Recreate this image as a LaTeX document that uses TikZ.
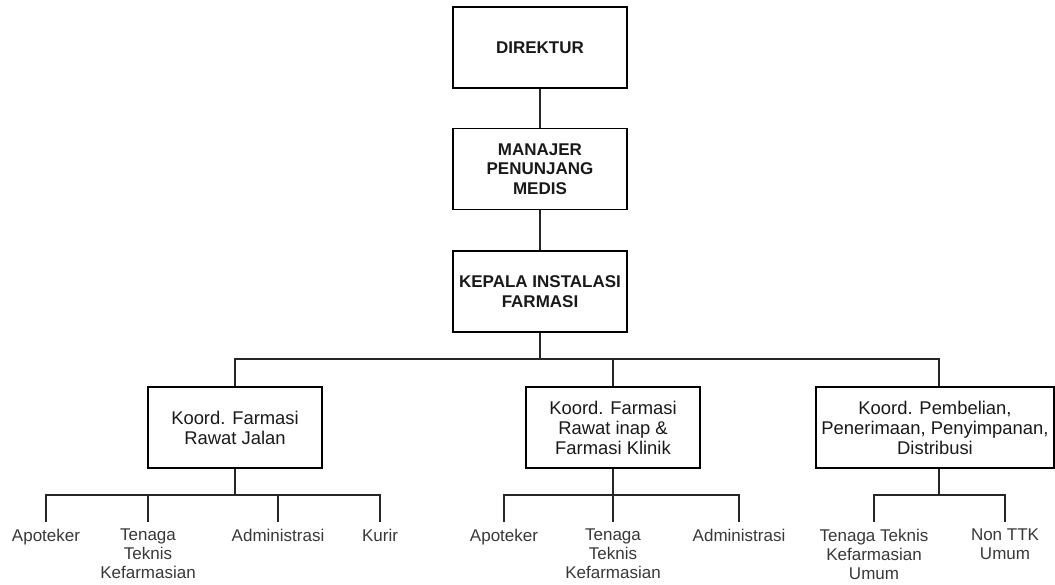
\documentclass[tikz,border=0pt]{standalone}
\usepackage{fontspec}
\setmainfont{Liberation Sans}
\begin{document}
\begin{tikzpicture}[x=1pt,y=-1pt,
  box/.style={draw=black,line width=1.2pt,rectangle,minimum width=174pt,minimum height=81pt,inner sep=0pt,align=center,text=black!90},
  title/.style={box,font=\fontsize{17}{19.5}\selectfont\bfseries},
  koord/.style={box,font=\fontsize{18.4}{20}\selectfont},
  lab/.style={anchor=north,inner xsep=0pt,inner ysep=7pt,align=center,text=black!78,font=\fontsize{17}{19}\selectfont},
  conn/.style={line width=1.2pt,black!85}]
\useasboundingbox (0,0) rectangle (1055,584);
% top chain
\node[title] (dir) at (540,47.5) {DIREKTUR};
\node[title] (man) at (540,169) {MANAJER\\PENUNJANG\\MEDIS};
\node[title] (kep) at (540,291.5) {KEPALA INSTALASI\\FARMASI};
% coordinators
\node[koord] (k1) at (235,427.5) {Koord. Farmasi\\Rawat Jalan};
\node[koord] (k2) at (613,427.5) {Koord. Farmasi\\Rawat inap \&\\Farmasi Klinik};
\node[koord,minimum width=238pt] (k3) at (935,427.5) {Koord. Pembelian,\\Penerimaan, Penyimpanan,\\Distribusi};
% junctions
\coordinate (m) at (540,359);
\coordinate (j1) at (235,495);
\coordinate (j2) at (613,495);
\coordinate (j3) at (939,495);
% labels
\node[lab] (a1) at (46,522) {Apoteker};
\node[lab] (a2) at (148,522) {Tenaga\\Teknis\\Kefarmasian};
\node[lab] (a3) at (278,522) {Administrasi};
\node[lab] (a4) at (380,522) {Kurir};
\node[lab] (b1) at (504,522) {Apoteker};
\node[lab] (b2) at (613,522) {Tenaga\\Teknis\\Kefarmasian};
\node[lab] (b3) at (739,522) {Administrasi};
\node[lab] (c1) at (874,522) {Tenaga Teknis\\Kefarmasian\\Umum};
\node[lab] (c2) at (1005,522) {Non TTK\\Umum};
% connectors
\draw[conn] (dir) -- (man);
\draw[conn] (man) -- (kep);
\draw[conn] (kep) -- (m);
\draw[conn] (m) -| (k1);
\draw[conn] (m) -| (k2);
\draw[conn] (m) -| (k3.north -| j3);
\draw[conn] (k1) -- (j1);
\draw[conn] (k2) -- (j2);
\draw[conn] (k3.south -| j3) -- (j3);
\draw[conn] (j1) -| (a1.north);
\draw[conn] (j1) -| (a2.north);
\draw[conn] (j1) -| (a3.north);
\draw[conn] (j1) -| (a4.north);
\draw[conn] (j2) -| (b1.north);
\draw[conn] (j2) -- (b2.north);
\draw[conn] (j2) -| (b3.north);
\draw[conn] (j3) -| (c1.north);
\draw[conn] (j3) -| (c2.north);
\end{tikzpicture}
\end{document}
